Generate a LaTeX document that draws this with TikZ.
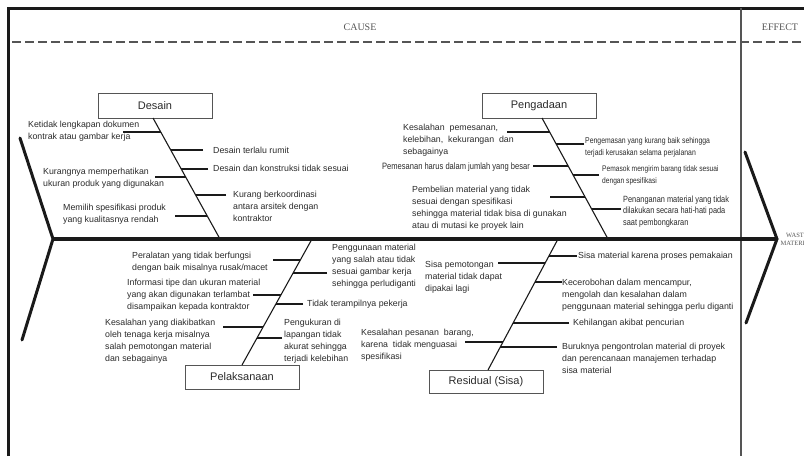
\documentclass[tikz,border=0pt]{standalone}
\usepackage{fontspec}
\setmainfont{Liberation Sans}
\newfontfamily\narrowft[FakeStretch=0.82]{Liberation Sans}
\newfontfamily\serifft{Liberation Serif}
\definecolor{txt}{HTML}{2A2A2A}
\definecolor{lin}{HTML}{1A1A1A}
\definecolor{boxc}{HTML}{555555}
\definecolor{hdr}{HTML}{555555}
\begin{document}
\begin{tikzpicture}[x=1pt,y=-1pt,
  lbl/.style={font=\fontsize{8.8}{11.7}\selectfont, text=txt, align=left, inner sep=0pt, anchor=north west},
  nlbl/.style={lbl, font=\narrowft\fontsize{8.4}{11.7}\selectfont},
  catbox/.style={draw=boxc, line width=0.9pt, minimum width=114pt, minimum height=24pt, inner sep=0pt, font=\fontsize{11}{13}\selectfont, text=txt},
  bone/.style={draw=lin, line width=1.1pt},
  twig/.style={draw=lin, line width=1.1pt},
  fin/.style={draw=lin, line width=3pt, line cap=round},
  hdrtext/.style={font=\serifft\fontsize{10}{12}\selectfont, text=hdr, inner sep=0pt}
]
\useasboundingbox (0,0) rectangle (804,456);
\clip (0,0) rectangle (804,456);

% frame
\coordinate (fTL) at (8,8);
\coordinate (fTR) at (804,8);
\coordinate (fBL) at (8,456);
\coordinate (sepT) at (741,8);
\coordinate (sepB) at (741,456);
\coordinate (dashL) at (12,41.5);
\coordinate (dashR) at (804,41.5);
\draw[lin, line width=3pt] (fBL) -- (fTL) -- (fTR);
\draw[boxc, line width=1.2pt] (sepT) -- (sepB);
\draw[hdr, line width=2pt, dash pattern=on 9pt off 4pt] (dashL) -- (dashR);
\node[hdrtext] (cause) at (360,27) {CAUSE};
\node[hdrtext] (effect) at (780,27) {EFFECT};

% spine, tail and head
\coordinate (tailV) at (53,239);
\coordinate (tailT) at (20,138);
\coordinate (tailB) at (22,340);
\coordinate (head) at (777,239);
\coordinate (headT) at (745,152);
\coordinate (headB) at (746,323);
\draw[lin, line width=4pt] (tailV) -- (head);
\draw[fin] (tailT) -- (tailV) -- (tailB);
\draw[fin] (headT) -- (head) -- (headB);
\node[font=\serifft\fontsize{6.5}{8}\selectfont, text=hdr, align=center, inner sep=0pt] (waste) at (797,239.5) {WASTE\\MATERIAL};

% category boxes
\node[catbox, minimum height=25pt] (desain) at (155,105.5) {Desain};
\node[catbox, minimum height=25pt] (pengadaan) at (539,105.5) {Pengadaan};
\node[catbox] (pelaksanaan) at (242,377) {Pelaksanaan};
\node[catbox, minimum height=23pt] (residual) at (486,381.5) {Residual (Sisa)};

% bones
\coordinate (dT) at (153,118);   \coordinate (dB) at (220,239);
\coordinate (pT) at (542,118);   \coordinate (pB) at (608,239);
\coordinate (lT) at (242,365);   \coordinate (lB) at (312,239);
\coordinate (rT) at (488,370);   \coordinate (rB) at (558,239);
\draw[bone] (dT) -- (dB);
\draw[bone] (pT) -- (pB);
\draw[bone] (lT) -- (lB);
\draw[bone] (rT) -- (rB);

% ---- Desain
\node[lbl] (t1) at (28,121.4) {Ketidak lengkapan dokumen\\kontrak atau gambar kerja};
\node[lbl] (t2) at (213,147.4) {Desain terlalu rumit};
\node[lbl] (t3) at (213,165.4) {Desain dan konstruksi tidak sesuai};
\node[lbl] (t4) at (43,168.4) {Kurangnya memperhatikan\\ukuran produk yang digunakan};
\node[lbl] (t5) at (233,191.4) {Kurang berkoordinasi\\antara arsitek dengan\\kontraktor};
\node[lbl] (t6) at (63,204.4) {Memilih spesifikasi produk\\yang kualitasnya rendah};
\coordinate (dw1) at (123,132);   \coordinate (db1) at (160.8,132);
\coordinate (dw2) at (203,150);   \coordinate (db2) at (170.7,150);
\coordinate (dw3) at (208,169);   \coordinate (db3) at (181.2,169);
\coordinate (dw4) at (155,177);   \coordinate (db4) at (185.7,177);
\coordinate (dw5) at (226,195);   \coordinate (db5) at (195.7,195);
\coordinate (dw6) at (175,216);   \coordinate (db6) at (207.3,216);
\foreach \i in {1,...,6} {\draw[twig] (dw\i) -- (db\i);}

% ---- Pengadaan
\node[lbl] (p1) at (403,124.4) {Kesalahan\ \ pemesanan,\\kelebihan,\ \ kekurangan\ \ dan\\sebagainya};
\node[nlbl, font=\narrowft\fontsize{9.2}{11.7}\selectfont] (p2) at (382,162.4) {Pemesanan harus dalam jumlah yang besar};
\node[lbl] (p3) at (412,186.4) {Pembelian material yang tidak\\sesuai dengan spesifikasi\\sehingga material tidak bisa di gunakan\\atau di mutasi ke proyek lain};
\node[nlbl] (p4) at (585,137.4) {Pengemasan yang kurang baik sehingga\\terjadi kerusakan selama perjalanan};
\node[nlbl, font=\narrowft\fontsize{8.1}{11.7}\selectfont] (p5) at (602,165.4) {Pemasok mengirim barang tidak sesuai\\dengan spesifikasi};
\node[nlbl, font=\narrowft\fontsize{9}{11.7}\selectfont] (p6) at (623,195.4) {Penanganan material yang tidak\\dilakukan secara hati-hati pada\\saat pembongkaran};
\coordinate (pw1) at (507,132);   \coordinate (pb1) at (549.6,132);
\coordinate (pw2) at (533,166);   \coordinate (pb2) at (568.2,166);
\coordinate (pw3) at (550,197);   \coordinate (pb3) at (585.1,197);
\coordinate (pw4) at (584,144);   \coordinate (pb4) at (556.2,144);
\coordinate (pw5) at (599,175);   \coordinate (pb5) at (573.1,175);
\coordinate (pw6) at (621,209);   \coordinate (pb6) at (591.6,209);
\foreach \i in {1,...,6} {\draw[twig] (pw\i) -- (pb\i);}

% ---- Pelaksanaan
\node[lbl] (l1) at (132,252.4) {Peralatan yang tidak berfungsi\\dengan baik misalnya rusak/macet};
\node[lbl] (l2) at (127,279.4) {Informasi tipe dan ukuran material\\yang akan digunakan terlambat\\disampaikan kepada kontraktor};
\node[lbl] (l3) at (105,319.4) {Kesalahan yang diakibatkan\\oleh tenaga kerja misalnya\\salah pemotongan material\\dan sebagainya};
\node[lbl] (l4) at (332,244.4) {Penggunaan material\\yang salah atau tidak\\sesuai gambar kerja\\sehingga perludiganti};
\node[lbl] (l5) at (307,300.4) {Tidak terampilnya pekerja};
\node[lbl] (l6) at (284,319.4) {Pengukuran di\\lapangan tidak\\akurat sehingga\\terjadi kelebihan};
\coordinate (lw1) at (273,260);   \coordinate (lb1) at (300.3,260);
\coordinate (lw2) at (253,295);   \coordinate (lb2) at (280.9,295);
\coordinate (lw3) at (223,327);   \coordinate (lb3) at (263.1,327);
\coordinate (lw4) at (327,273);   \coordinate (lb4) at (293.1,273);
\coordinate (lw5) at (303,304);   \coordinate (lb5) at (275.9,304);
\coordinate (lw6) at (282,338);   \coordinate (lb6) at (257.0,338);
\foreach \i in {1,...,6} {\draw[twig] (lw\i) -- (lb\i);}

% ---- Residual
\node[lbl] (r1) at (425,261.4) {Sisa pemotongan\\material tidak dapat\\dipakai lagi};
\node[lbl] (r2) at (361,329.4) {Kesalahan pesanan\ \ barang,\\karena\ \ tidak menguasai\\spesifikasi};
\node[lbl] (r3) at (578,252.4) {Sisa material karena proses pemakaian};
\node[lbl] (r4) at (562,279.4) {Kecerobohan dalam mencampur,\\mengolah dan kesalahan dalam\\penggunaan material sehingga perlu diganti};
\node[lbl] (r5) at (573,319.4) {Kehilangan akibat pencurian};
\node[lbl] (r6) at (562,343.4) {Buruknya pengontrolan material di proyek\\dan perencanaan manajemen terhadap\\sisa material};
\coordinate (rw1) at (498,263);   \coordinate (rb1) at (545.2,263);
\coordinate (rw2) at (465,342);   \coordinate (rb2) at (503.0,342);
\coordinate (rw3) at (577,256);   \coordinate (rb3) at (548.9,256);
\coordinate (rw4) at (562,282);   \coordinate (rb4) at (535.0,282);
\coordinate (rw5) at (569,323);   \coordinate (rb5) at (513.1,323);
\coordinate (rw6) at (557,347);   \coordinate (rb6) at (500.3,347);
\foreach \i in {1,...,6} {\draw[twig] (rw\i) -- (rb\i);}
\end{tikzpicture}
\end{document}
